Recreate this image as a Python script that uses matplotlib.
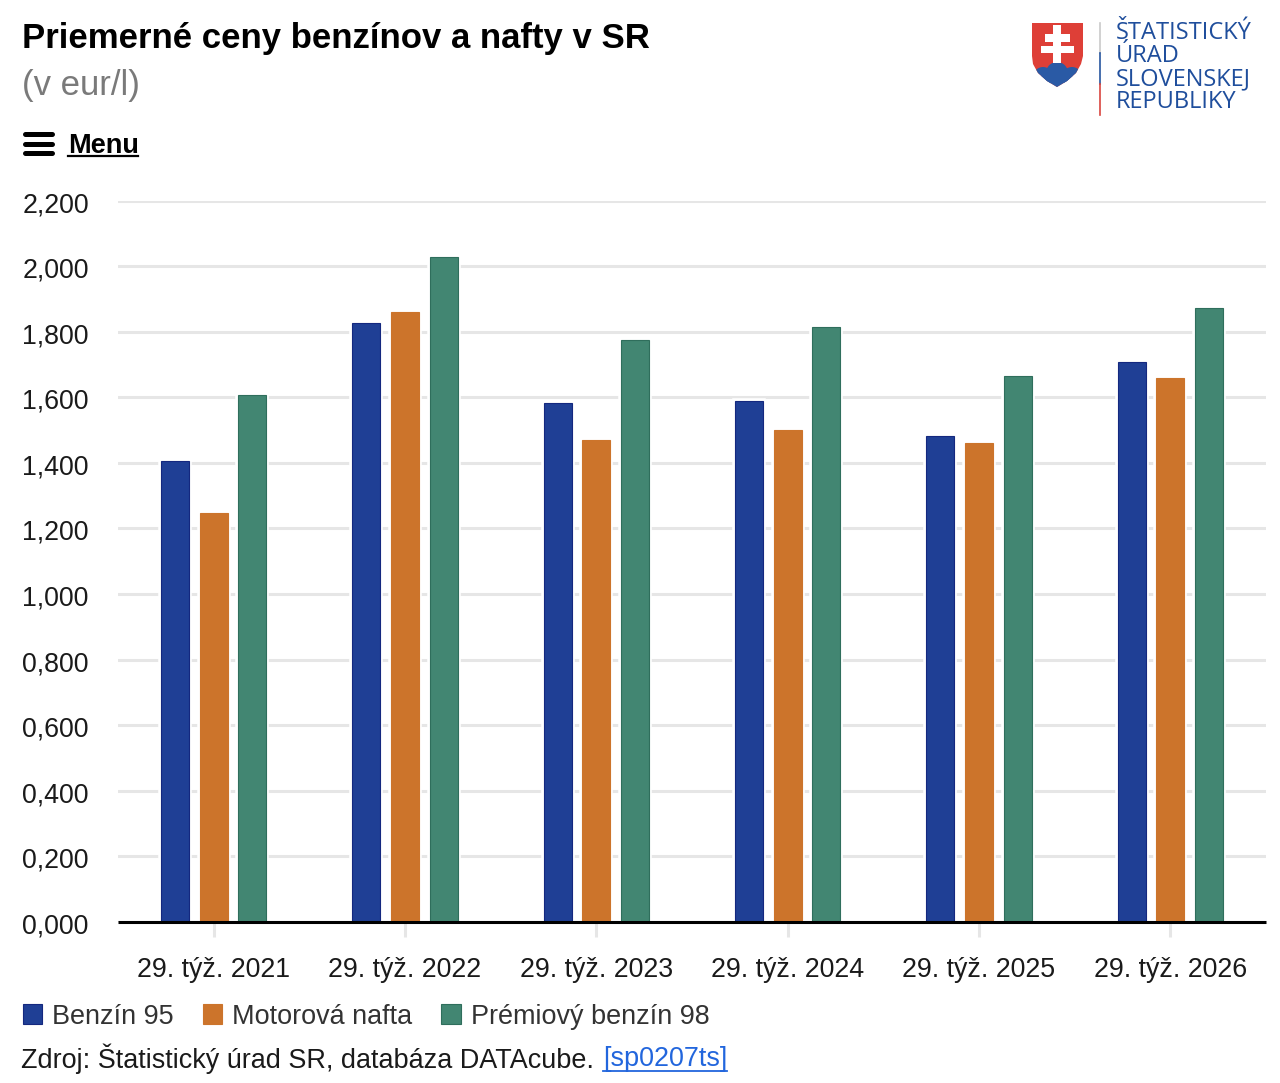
import matplotlib
matplotlib.use("Agg")
import matplotlib.patheffects as pe
import matplotlib.pyplot as plt
import matplotlib.transforms as mtrans
import numpy as np
from matplotlib.patches import Polygon, Rectangle, Circle

plt.rcParams['font.family'] = ['Liberation Sans', 'DejaVu Sans']

# values
categories = ["29. týž. 2021", "29. týž. 2022", "29. týž. 2023",
              "29. týž. 2024", "29. týž. 2025", "29. týž. 2026"]
benzin_95 = [1.405, 1.825, 1.584, 1.590, 1.483, 1.708]
nafta = [1.246, 1.859, 1.470, 1.500, 1.462, 1.660]
benzin_98 = [1.606, 2.028, 1.774, 1.813, 1.666, 1.871]
series_names = ["Benzín 95", "Motorová nafta", "Prémiový benzín 98"]
series_colors = ["#1f3f95", "#cc742b", "#428672"]
edge_colors = ["#14287f", "#cc742b", "#2f6e5c"]
y_ticks = [0, 0.2, 0.4, 0.6, 0.8, 1.0, 1.2, 1.4, 1.6, 1.8, 2.0, 2.2]

W, H = 1280, 1083
GRID = "#e6e6e6"

fig = plt.figure(figsize=(W / 100, H / 100), dpi=100, facecolor="white")

# main chart area, in pixel positions of the reference
left, right, top, bottom = 118, 1266, 200.5, 922
ax = fig.add_axes([left / W, 1 - bottom / H, (right - left) / W, (bottom - top) / H])
x = np.arange(len(categories))
bars = []
for i, vals in enumerate([benzin_95, nafta, benzin_98]):
    b = ax.bar(x + (i - 1) * 0.202, vals, width=0.145, color=series_colors[i],
               edgecolor=edge_colors[i], linewidth=0.8, label=series_names[i], zorder=3)
    # white halo that interrupts the grid lines next to each bar
    for patch in b:
        patch.set_path_effects([pe.Stroke(linewidth=4, foreground="white"), pe.Normal()])
    bars.append(b)

ax.set_xlim(-0.5, len(categories) - 0.5)
ax.set_ylim(0, 2.2)
ax.set_yticks(y_ticks)
ax.set_yticklabels([f"{v:.3f}".replace(".", ",") for v in y_ticks], fontsize=19.25, color="#1a1a1a")
ax.set_xticks(x)
ax.set_xticklabels(categories, fontsize=19.25, color="#1a1a1a")
ax.tick_params(axis="y", length=0, pad=21)
ax.tick_params(axis="x", length=10.5, width=2.2, color=GRID, pad=15)
ax.grid(axis="y", color=GRID, lw=2.2, zorder=0)
ax.set_axisbelow(True)
# y labels sit a little below their grid line
shift = mtrans.ScaledTranslation(0, -1.5 / 100, fig.dpi_scale_trans)
for lab in ax.get_yticklabels():
    lab.set_transform(lab.get_transform() + shift)
for s in ["top", "left", "right"]:
    ax.spines[s].set_visible(False)
ax.spines["bottom"].set_color("black")
ax.spines["bottom"].set_linewidth(2.2)
ax.spines["bottom"].set_capstyle("butt")
ax.spines["bottom"].set_zorder(5)

# overlay in pixel coordinates for the header, logo and footer
ov = fig.add_axes([0, 0, 1, 1], facecolor="none")
ov.set_xlim(0, W)
ov.set_ylim(H, 0)
ov.axis("off")

ov.text(22, 38.5, "Priemerné ceny benzínov a nafty v SR", fontsize=25.05, fontweight="bold",
        color="black", va="center", ha="left")
ov.text(22, 86, "(v eur/l)", fontsize=25, color="#7a7a7a", va="center", ha="left")

# menu
for yy in [134, 143.5, 153]:
    ov.plot([25, 52], [yy, yy], color="black", lw=3.6, solid_capstyle="round")
ov.text(68, 146, "Menu", fontsize=19.5, fontweight="bold", color="black", va="center", ha="left")
ov.plot([68, 138], [156, 156], color="black", lw=1.6)

# logo
shield = [(1032, 23), (1083, 23), (1083, 56), (1081, 64), (1076, 73), (1067, 81), (1057, 87),
          (1047, 81), (1038, 73), (1033, 64), (1032, 56)]
red = Polygon(shield, closed=True, color="#de3f37", lw=0)
ov.add_patch(red)
hills = [Circle((1043, 77), 10, color="#2a5aa5", lw=0), Circle((1057, 73), 11, color="#2a5aa5", lw=0),
         Circle((1072, 77), 10, color="#2a5aa5", lw=0),
         Rectangle((1032, 76), 51, 13, color="#2a5aa5", lw=0)]
for h in hills:
    h.set_clip_path(red)
    ov.add_patch(h)
for rx, ry, rw, rh in [(1053, 25, 8, 38), (1045, 34, 25, 8), (1041, 46, 33, 7)]:
    ov.add_patch(Rectangle((rx, ry), rw, rh, color="white", lw=0))
ov.plot([1100, 1100], [23, 53], color="#c9c9c9", lw=1.2)
ov.plot([1100, 1100], [53, 84], color="#27569f", lw=1.2)
ov.plot([1100, 1100], [84, 115], color="#d9453f", lw=1.2)
for yy, line in zip([33, 56, 79, 102], ["ŠTATISTICKÝ", "ÚRAD", "SLOVENSKEJ", "REPUBLIKY"]):
    ov.text(1116, yy, line, fontsize=17, color="#1f4e9c", family="Open Sans", va="center", ha="left")

# legend
ov.legend([b[0] for b in bars], series_names, loc="center left", bbox_to_anchor=(1 / W, 1 - 1016.5 / H),
          bbox_transform=fig.transFigure, ncol=3, frameon=False, fontsize=19.45, handlelength=0.72,
          handleheight=0.72, handletextpad=0.37, columnspacing=1.07, labelcolor="#333333", borderpad=0.3)

# source line
ov.text(21, 1059, "Zdroj: Štatistický úrad SR, databáza DATAcube.", fontsize=19.45, color="#1a1a1a",
        va="center", ha="left")
ov.text(603, 1059, "[sp0207ts]", fontsize=19.45, color="#2266dd", va="center", ha="left")
ov.plot([603, 727], [1071, 1071], color="#2266dd", lw=1.3)

fig.savefig("out.png", dpi=100, facecolor="white")
